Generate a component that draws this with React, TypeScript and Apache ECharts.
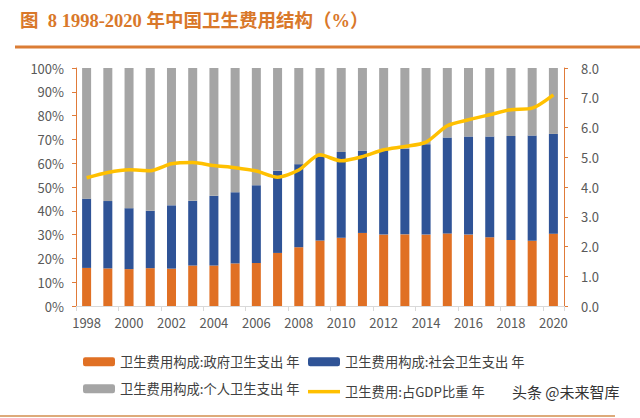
import React, { useEffect, useRef } from "react";
import * as echarts from "echarts";

const years = ["1998","1999","2000","2001","2002","2003","2004","2005","2006","2007","2008","2009","2010","2011","2012","2013","2014","2015","2016","2017","2018","2019","2020"];
const govShare = [16.0,15.8,15.5,15.9,15.7,17.0,17.0,17.9,18.1,22.3,24.7,27.5,28.7,30.7,30.0,30.1,30.0,30.5,30.0,28.9,27.7,27.4,30.4];
const socialShare = [29.1,28.3,25.6,24.1,26.6,27.2,29.3,29.9,32.6,34.5,34.9,35.1,36.0,34.6,35.7,36.0,38.0,40.3,41.2,42.3,43.7,44.2,41.9];
const personalShare = [54.9,55.9,58.9,60.0,57.7,55.8,53.7,52.2,49.3,43.2,40.4,37.4,35.3,34.7,34.3,33.9,32.0,29.2,28.8,28.8,28.6,28.4,27.7];
const gdpShare = [4.31,4.49,4.58,4.55,4.78,4.82,4.72,4.65,4.54,4.33,4.57,5.08,4.88,5.02,5.25,5.36,5.51,6.06,6.26,6.43,6.60,6.65,7.10];

const leftTicks = [0,10,20,30,40,50,60,70,80,90,100];
const rightTicks = [0,1,2,3,4,5,6,7,8];

const nameGov = "卫生费用构成:政府卫生支出 年";
const nameSocial = "卫生费用构成:社会卫生支出 年";
const namePersonal = "卫生费用构成:个人卫生支出 年";
const nameGdp = "卫生费用:占GDP比重 年";
const titleText = "图  8 1998-2020 年中国卫生费用结构（%）";
const watermark = "头条 @未来智库";

export default function App() {
  const ref = useRef<HTMLDivElement>(null);
  useEffect(() => {
    if (!ref.current) return;
    const chart = echarts.init(ref.current, undefined, { renderer: "svg" });
    const font = "'Noto Sans CJK SC', 'Noto Sans', sans-serif";
    const axisColor = "#E07B39";
    const labelColor = "#595959";
    const legendText = { fontSize: 13.3, color: "#404040", fontFamily: font };
    chart.setOption({
      animation: false,
      backgroundColor: "#ffffff",
      textStyle: { fontFamily: font },
      grid: { left: 76, right: 76, top: 68, bottom: 112, containLabel: false },
      legend: [
        { left: 78, top: 350, itemWidth: 32, itemHeight: 9, textStyle: legendText, data: [nameGov] },
        { left: 303, top: 350, itemWidth: 32, itemHeight: 9, textStyle: legendText, data: [nameSocial] },
        { left: 78, top: 377, itemWidth: 32, itemHeight: 9, textStyle: legendText, data: [namePersonal] },
        { left: 303, top: 380, itemWidth: 32, itemHeight: 3.5, icon: "rect", textStyle: legendText, data: [nameGdp] },
      ],
      xAxis: {
        type: "category",
        data: years,
        boundaryGap: true,
        axisLine: { lineStyle: { color: "#D9D9D9", width: 1 } },
        axisTick: { show: true, interval: 1, length: 5, lineStyle: { color: "#D9D9D9" } },
        axisLabel: { interval: 1, color: labelColor, fontSize: 13, margin: 10, fontFamily: font },
        splitLine: { show: false },
      },
      yAxis: [
        {
          type: "value", min: leftTicks[0], max: leftTicks[leftTicks.length - 1], interval: 10,
          axisLine: { show: true, lineStyle: { color: axisColor, width: 1 } },
          axisTick: { show: true, length: 4, lineStyle: { color: axisColor } },
          axisLabel: { formatter: "{value}%", color: labelColor, fontSize: 13, margin: 12, fontFamily: font },
          splitLine: { show: false },
        },
        {
          type: "value", min: rightTicks[0], max: rightTicks[rightTicks.length - 1], interval: 1,
          position: "right",
          axisLine: { show: true, lineStyle: { color: axisColor, width: 1 } },
          axisTick: { show: true, length: 4, lineStyle: { color: axisColor } },
          axisLabel: { formatter: (v: number) => v.toFixed(1), color: labelColor, fontSize: 13, margin: 17, fontFamily: font },
          splitLine: { show: false },
        },
      ],
      series: [
        { name: nameGov, type: "bar", stack: "s", barWidth: 9, data: govShare, itemStyle: { color: "#E07024" } },
        { name: nameSocial, type: "bar", stack: "s", barWidth: 9, data: socialShare, itemStyle: { color: "#2F5396" } },
        { name: namePersonal, type: "bar", stack: "s", barWidth: 9, data: personalShare, itemStyle: { color: "#A5A5A5" } },
        {
          name: nameGdp, type: "line", yAxisIndex: 1, data: gdpShare, smooth: 0.25,
          symbol: "none", lineStyle: { color: "#FFC000", width: 3.5 }, itemStyle: { color: "#FFC000" },
        },
      ],
      graphic: [
        {
          type: "text", left: 20, top: 12,
          style: { text: titleText, fontSize: 18.5, fontWeight: "bold", fill: "#D9782A", fontFamily: "'Liberation Serif', 'Noto Sans CJK SC', serif" },
        },
        { type: "rect", shape: { x: 15, y: 45.5, width: 625, height: 3 }, style: { fill: "#DB7D35" } },
        { type: "rect", shape: { x: 0, y: 415, width: 615, height: 2 }, style: { fill: "#DDAA7A" } },
        {
          type: "text", left: 512, top: 384,
          style: { text: watermark, fontSize: 15, fill: "#333333", fontFamily: font },
        },
      ],
    });
    return () => chart.dispose();
  }, []);
  return <div ref={ref} style={{ position: "fixed", left: 0, top: 0, width: 640, height: 418 }} />;
}
